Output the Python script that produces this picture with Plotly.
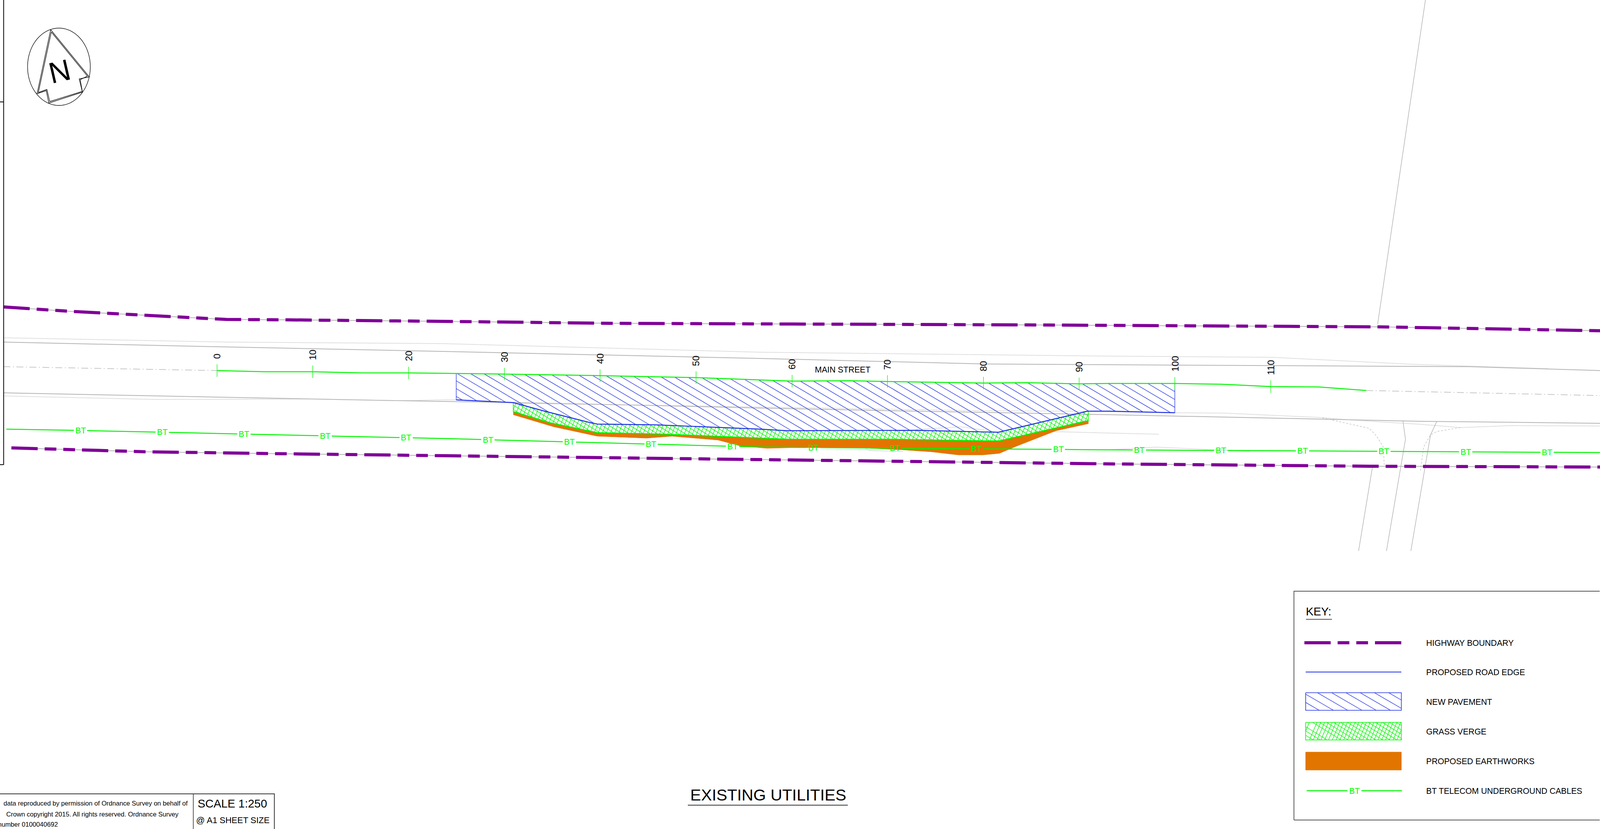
import numpy as np
import plotly.graph_objects as go

W, H = 5050, 2123          # drawing units
PAGE_W, PAGE_H = 4096, 2123  # the browser window that is actually available
XS = PAGE_W / W
TS = 0.815                 # text follows the horizontal scale so labels keep their extent
FONT = "Liberation Sans"
PURPLE = "#800098"
BLUE = "#1f2fe6"
GREEN = "#00f500"
LIME = "#00ff00"
ORANGE = "#e17500"
GRAY = "#b4b4b4"
THIN = "#a8a8a8"
DOT = "#c0c0c0"

# Highway boundaries
hb_top_x = [11, 214, 665, 714, 893, 1400, 1932, 3220, 4348, 5050]
hb_top_y = [786, 797, 816, 818, 819, 823, 828, 832, 837, 847]
hb_bot_x = [36, 464, 893, 1400, 2400, 3500, 4322, 5050]
hb_bot_y = [1147, 1157, 1162, 1167, 1177, 1188, 1194, 1196]

# Road edges
kerb_top_x = [11, 687, 1400, 2400, 3102, 3500, 4391, 4639, 5050]
kerb_top_y = [876, 888, 900, 918, 932, 934, 938, 939, 949]
dot_top_x = [11, 714, 1400, 2400, 3500, 4015, 4460, 4886]
dot_top_y = [865, 876, 880, 902, 912, 915, 933, 944]
kerb_bot_x = [11, 687, 1250, 1400, 1623, 2038, 2400, 2821, 3500, 4094, 4490, 5050]
kerb_bot_y = [1006, 1017, 1026, 1028, 1031, 1038, 1045, 1052, 1062, 1072, 1079, 1084]
dot_bot_x = [11, 491, 982, 1250, 1400, 1438, 1642, 2229, 3100, 3432, 3708, 3866, 4163, 4272, 4490, 4609, 4767, 5050]
dot_bot_y = [1014, 1023, 1022, 1026, 1024, 1024, 1033, 1040, 1052, 1053, 1057, 1058, 1069, 1076, 1087, 1095, 1090, 1091]
dash_left_x = [11, 685]
dash_left_y = [939, 949]
dash_right_x = [4312, 5050]
dash_right_y = [1000, 1013]

# Side road and other thin lines
side_a_x = [4428, 4436, 4376]
side_a_y = [1078, 1125, 1411]
side_b_x = [4535, 4515, 4453]
side_b_y = [1079, 1114, 1411]
side_c_x = [4332, 4288]
side_c_y = [1195, 1411]
far_line_x = [4499, 4348]
far_line_y = [0, 831]
side_dl_x = [4173, 4322, 4346, 4366, 4369]
side_dl_y = [1070, 1097, 1118, 1145, 1190]
side_dr_x = [4609, 4535, 4515, 4493, 4483]
side_dr_y = [1095, 1105, 1114, 1145, 1208]
verge_dot_a_x = [2891, 3032, 3154, 3312, 3500, 3658]
verge_dot_a_y = [1100, 1093, 1107, 1105, 1109, 1112]
verge_dot_b_x = [2730, 2744, 2850]
verge_dot_b_y = [1147, 1154, 1156]
verge_dot_c_x = [3500, 3649, 3837, 3945]
verge_dot_c_y = [1152, 1145, 1152, 1156]

# Chainage centre line
centre_x = [685, 835, 987, 1143, 1290, 1400, 1592, 1894, 2197, 2400, 2500, 2681, 2801, 3104, 3242, 3406, 3500, 3708, 3856, 4011, 4163, 4312]
centre_y = [949, 952, 952, 955, 955, 956, 958, 962, 967, 973, 976, 975, 977, 981, 980, 983, 982, 982, 984, 990, 991, 1000]
station_x = [685, 987, 1290, 1592, 1894, 2197, 2500, 2801, 3104, 3406, 3708, 4011]
station_labels = ["0", "10", "20", "30", "40", "50", "60", "70", "80", "90", "100", "110"]

# New pavement outline
pave_bot_x = [1440, 1620, 1719, 1856, 1885, 2070, 2400, 2484, 2891, 3151, 3432, 3500, 3708]
pave_bot_y = [1024, 1031, 1053, 1081, 1086, 1088, 1099, 1103, 1102, 1107, 1053, 1053, 1057]
pave_left_x = 1440
pave_right_x = 3708

# Grass verge lower edge (upper edge follows the pavement)
verge_bot_x = [1620, 1738, 1885, 2102, 2400, 2491, 2821, 3102, 3154, 3435]
verge_bot_y = [1054, 1083, 1108, 1112, 1122, 1125, 1125, 1129, 1129, 1077]
verge_top_x = [1620, 1719, 1856, 1885, 2070, 2400, 2484, 2891, 3151, 3435]
verge_top_y = [1031, 1053, 1081, 1086, 1088, 1099, 1103, 1102, 1107, 1053]

# Earthworks lower edge
earth_bot_x = [1620, 1748, 1885, 2041, 2121, 2267, 2337, 2421, 2519, 2723, 2849, 2940, 3025, 3102, 3154, 3207, 3333, 3435]
earth_bot_y = [1062, 1093, 1117, 1122, 1117, 1127, 1142, 1148, 1146, 1147, 1152, 1157, 1165, 1165, 1161, 1143, 1103, 1085]

# BT cable
bt_x = [20, 237, 1400, 2400, 3500, 5050]
bt_y = [1099, 1102, 1123, 1145, 1152, 1159]
bt_label_x = [254, 512, 770, 1026, 1282, 1540, 1797, 2055, 2312, 2568, 2825, 3082, 3340, 3596, 3853, 4111, 4368, 4626, 4883]

# Key
key_labels = ["HIGHWAY BOUNDARY", "PROPOSED ROAD EDGE", "NEW PAVEMENT", "GRASS VERGE",
              "PROPOSED EARTHWORKS", "BT TELECOM UNDERGROUND CABLES"]
key_rows = [1646, 1721, 1797, 1873, 1949, 2025]

# Footer text
note_lines = ["data reproduced by permission of Ordnance Survey on behalf of",
              "Crown copyright 2015. All rights reserved. Ordnance Survey",
              "number 0100040692"]
note_right = [593, 565, 182]
note_y = [2057, 2085, 2111]

# North arrow
arrow_outer_x = [160, 282, 250, 260, 154, 146, 117, 160]
arrow_outer_y = [76, 197, 202, 236, 264, 232, 240, 76]
arrow_inner_x = [162, 276, 253, 260, 157, 148, 121, 162]
arrow_inner_y = [82, 195, 204, 234, 260, 229, 237, 82]


fig = go.Figure()


def line(xs, ys, color, width, dash="solid"):
    fig.add_trace(go.Scatter(x=list(xs), y=list(ys), mode="lines", hoverinfo="skip", showlegend=False,
                             line=dict(color=color, width=width, dash=dash, simplify=False)))


def fill(xs, ys, color):
    fig.add_trace(go.Scatter(x=list(xs), y=list(ys), mode="lines", fill="toself", fillcolor=color,
                             hoverinfo="skip", showlegend=False, line=dict(color=color, width=1)))


def hatch(px, py, slope, spacing, x0, y0, color, width):
    """Lines x = x0 + k*spacing + (y-y0)/slope, clipped to a polygon."""
    px, py = np.asarray(px, float), np.asarray(py, float)
    if px[0] != px[-1] or py[0] != py[-1]:
        px, py = np.append(px, px[0]), np.append(py, py[0])
    c = px - (py - y0) / slope - x0
    xs, ys = [], []
    for k in range(int(np.floor(c.min() / spacing)), int(np.ceil(c.max() / spacing)) + 1):
        v = k * spacing
        hits = []
        for i in range(len(px) - 1):
            a, b = c[i], c[i + 1]
            if (a - v) * (b - v) < 0:
                t = (v - a) / (b - a)
                hits.append((px[i] + t * (px[i + 1] - px[i]), py[i] + t * (py[i + 1] - py[i])))
        hits.sort()
        for j in range(0, len(hits) - 1, 2):
            xs += [hits[j][0], hits[j + 1][0], None]
            ys += [hits[j][1], hits[j + 1][1], None]
    line(xs, ys, color, width)


def text(x, y, s, size, color="#000000", xanchor="center", yanchor="middle", angle=0):
    fig.add_annotation(x=x, y=y, text=s, showarrow=False, xanchor=xanchor, yanchor=yanchor, textangle=angle,
                       font=dict(family=FONT, size=size, color=color), borderpad=0, borderwidth=0)


def dash(*lengths):
    return ",".join(f"{v * XS:.1f}px" for v in lengths)


BOUNDARY_DASH = dash(83, 22, 37, 22, 37, 22)
DOTS = dash(2.5, 2.5)
DASHDOT = dash(22, 8, 3, 8)

# Base mapping lines
line(kerb_top_x, kerb_top_y, GRAY, 2)
line(kerb_bot_x, kerb_bot_y, GRAY, 2)
line(dot_top_x, dot_top_y, DOT, 2, DOTS)
line(dot_bot_x, dot_bot_y, DOT, 2, DOTS)
line(dash_left_x, dash_left_y, "#c8c8c8", 2, DASHDOT)
line(dash_right_x, dash_right_y, "#c8c8c8", 2, DASHDOT)
for vx, vy in ((verge_dot_a_x, verge_dot_a_y), (verge_dot_b_x, verge_dot_b_y), (verge_dot_c_x, verge_dot_c_y)):
    line(vx, vy, DOT, 2, DOTS)
for vx, vy in ((side_a_x, side_a_y), (side_b_x, side_b_y), (side_c_x, side_c_y), (far_line_x, far_line_y)):
    line(vx, vy, THIN, 1.3)
line(side_dl_x, side_dl_y, "#b8b8b8", 1.2, dash(6, 5))
line(side_dr_x, side_dr_y, "#b8b8b8", 1.2, dash(6, 5))

# Highway boundary: grey under purple
line(hb_top_x, hb_top_y, GRAY, 2)
line(hb_bot_x, hb_bot_y, GRAY, 2)
line(hb_top_x, hb_top_y, PURPLE, 8, BOUNDARY_DASH)
line(hb_bot_x, hb_bot_y, PURPLE, 8, BOUNDARY_DASH)

# Earthworks sits under the verge
earth_x = verge_bot_x + earth_bot_x[::-1]
earth_y = verge_bot_y + earth_bot_y[::-1]
fill(earth_x, earth_y, ORANGE)

# Verge hatch and edges
verge_x = verge_top_x + verge_bot_x[::-1]
verge_y = verge_top_y + verge_bot_y[::-1]
hatch(verge_x, verge_y, -1.9, 13, 1625, 1040, GREEN, 1.4)
hatch(verge_x, verge_y, 0.5, 22, 1625, 1040, GREEN, 1.4)
line(verge_x + verge_x[:1], verge_y + verge_y[:1], GREEN, 1.6)
line(verge_bot_x, verge_bot_y, GREEN, 2.5)

# Pavement hatch
centre_in_x = [pave_left_x] + [v for v in centre_x if pave_left_x < v < pave_right_x] + [pave_right_x]
centre_in_y = list(np.interp(centre_in_x, centre_x, centre_y))
pave_x = centre_in_x + pave_bot_x[::-1]
pave_y = centre_in_y + pave_bot_y[::-1]
hatch(pave_x, pave_y, 0.48, 41.7, 1575, 980, BLUE, 1.3)
line([pave_left_x, pave_left_x], [centre_in_y[0], pave_bot_y[0]], BLUE, 1.3)
line([pave_right_x, pave_right_x], [centre_in_y[-1], pave_bot_y[-1]], BLUE, 1.3)
line(pave_bot_x, pave_bot_y, BLUE, 2.4)

# Chainage line, ticks and labels
line(centre_x, centre_y, GREEN, 2.5)
tx, ty = [], []
for sx in station_x:
    sy = float(np.interp(sx, centre_x, centre_y))
    tx += [sx, sx, None]
    ty += [sy - 16, sy + 16, None]
line(tx, ty, GREEN, 1.3)
for sx, lab in zip(station_x, station_labels):
    sy = float(np.interp(sx, centre_x, centre_y))
    text(sx, sy - 30, lab, 24, yanchor="bottom", angle=-90)

# BT cable with breaks round its labels
bx, by = [], []
start = bt_x[0]
for lx in bt_label_x + [None]:
    end = bt_x[-1] if lx is None else lx - 21
    inner = [v for v in bt_x if start < v < end]
    seg = [start] + inner + [end]
    bx += seg + [None]
    by += list(np.interp(seg, bt_x, bt_y)) + [None]
    if lx is not None:
        start = lx + 21
line(bx, by, GREEN, 2.5)
for lx in bt_label_x:
    text(lx, float(np.interp(lx, bt_x, bt_y)), "BT", 26 * TS, LIME)

text(2659, 946, "MAIN STREET", 26 * TS)

# Sheet frame
line([11.5, 11.5], [0, 1190], "#000000", 2)
line([0, 11.5], [261, 261], "#000000", 2)
line([0, 11.5], [1190, 1190], "#000000", 2)

# North arrow
theta = np.linspace(0, 2 * np.pi, 181)
line(186 + 99 * np.cos(theta), 171 + 99 * np.sin(theta), "#111111", 1.4)
line(arrow_outer_x, arrow_outer_y, "#111111", 1.4)
line(arrow_inner_x, arrow_inner_y, "#111111", 1.4)
text(188, 182, "N", 76, angle=-13)

# Key
line([4084, 4084, 5049], [2100, 1514, 1514], "#555555", 2)
line([4084, 5049], [2100, 2100], "#555555", 2)
text(4122, 1565, "KEY:", 36 * TS, xanchor="left")
line([4122, 4204], [1586, 1586], "#555555", 2)
line([4117, 4427], [key_rows[0], key_rows[0]], PURPLE, 8, BOUNDARY_DASH)
line([4121, 4423], [key_rows[1], key_rows[1]], BLUE, 2)
pb_x, pb_y = [4121, 4423, 4423, 4121, 4121], [1774, 1774, 1819, 1819, 1774]
hatch(pb_x, pb_y, 0.47, 45, 4158, 1774, BLUE, 1.3)
line(pb_x, pb_y, BLUE, 1.6)
gb_x, gb_y = [4121, 4423, 4423, 4121, 4121], [1850, 1850, 1895, 1895, 1850]
hatch(gb_x, gb_y, -1.9, 12, 4121, 1895, GREEN, 1.4)
hatch(gb_x, gb_y, 0.5, 22, 4121, 1850, GREEN, 1.4)
line(gb_x, gb_y, GREEN, 1.6)
fill([4121, 4423, 4423, 4121, 4121], [1926, 1926, 1972, 1972, 1926], ORANGE)
line([4124, 4253, None, 4297, 4425], [key_rows[5]] * 2 + [None] + [key_rows[5]] * 2, GREEN, 2.5)
text(4275, key_rows[5], "BT", 26 * TS, LIME)
for lab, ry in zip(key_labels, key_rows):
    text(4501, ry, lab, 26 * TS, xanchor="left")

# Scale box and copyright note
line([0, 866, 866], [2033, 2033, H], "#333333", 2)
line([610, 610], [2033, H], "#333333", 1.6)
for s, rx, ny in zip(note_lines, note_right, note_y):
    text(rx, ny, s, 16.6, xanchor="right")
text(734, 2057, "SCALE 1:250", 36 * TS)
text(735, 2100, "@ A1 SHEET SIZE", 27 * TS)

# Title
text(2424, 2035, "EXISTING UTILITIES", 51 * TS)
line([2171, 2676], [2062, 2062], "#555555", 2.5)

fig.update_layout(
    width=PAGE_W, height=PAGE_H, autosize=False, margin=dict(l=0, r=0, t=0, b=0, pad=0),
    paper_bgcolor="white", plot_bgcolor="white", showlegend=False,
    xaxis=dict(visible=False, range=[0, W], fixedrange=True),
    yaxis=dict(visible=False, range=[H, 0], fixedrange=True),
)
fig.write_html("out.html", config=dict(displayModeBar=False), post_script="document.body.style.margin='0';")
